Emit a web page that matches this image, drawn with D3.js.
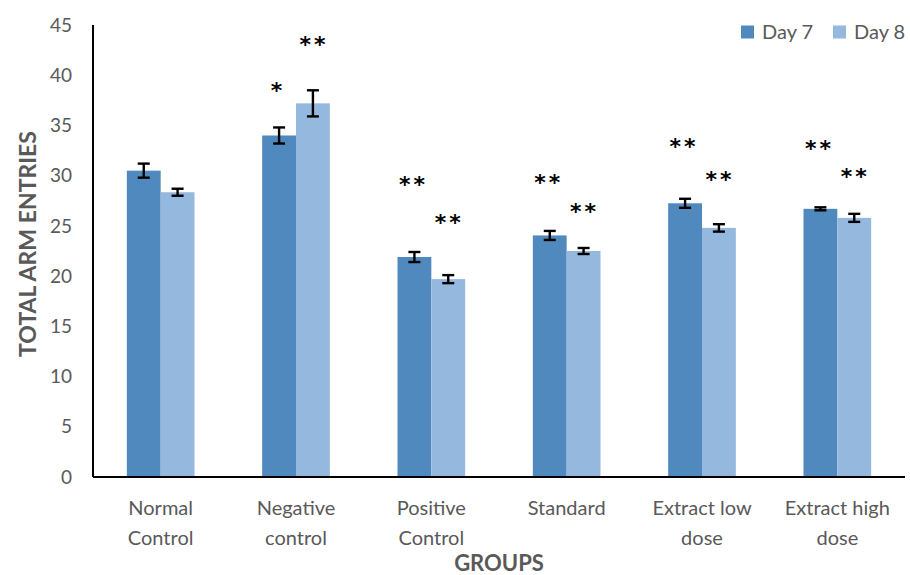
<!DOCTYPE html>
<html>
<head>
<meta charset="utf-8">
<script src="https://cdn.jsdelivr.net/npm/d3@7"></script>
<style>
  body { margin: 0; background: #fff; }
  svg text { font-family: Lato, "Open Sans", sans-serif; }
  .tick-label { fill: #595959; font-size: 19px; }
  .cat-label { fill: #595959; font-size: 20px; }
  .axis-title { fill: #595959; font-weight: bold; }
  .sig { fill: #000; font-size: 22px; font-weight: bold; font-family: "DejaVu Sans", sans-serif !important; }
</style>
</head>
<body>
<svg id="chart" width="910" height="575"></svg>
<script>
// data
var groups = [["Normal", "Control"], ["Negative", "control"], ["Positive", "Control"],
              ["Standard"], ["Extract low", "dose"], ["Extract high", "dose"]];
var series = ["Day 7", "Day 8"];
var day7 = [30.5, 34.0, 21.9, 24.05, 27.25, 26.7];
var day8 = [28.35, 37.2, 19.7, 22.5, 24.8, 25.8];
var err7 = [0.7, 0.8, 0.5, 0.45, 0.45, 0.15];
var err8 = [0.35, 1.3, 0.4, 0.3, 0.37, 0.4];
// significance marks and the level (in data units) they sit at
var sig7 = ["", "*", "**", "**", "**", "**"];
var sig8 = ["", "**", "**", "**", "**", "**"];
var sigLevel7 = [0, 38.9, 29.6, 29.8, 33.4, 33.2];
var sigLevel8 = [0, 43.5, 25.8, 26.9, 30.1, 30.4];
var yTicks = [0, 5, 10, 15, 20, 25, 30, 35, 40, 45];

var colors = ["#4f89bd", "#95b8df"];

var svg = d3.select("#chart");
var plotLeft = 93, plotRight = 905, plotTop = 25, plotBottom = 477;

// ---------- scales ----------
var x0 = d3.scaleBand()
    .domain(d3.range(groups.length))
    .range([plotLeft, plotRight])
    .paddingInner(0.5)
    .paddingOuter(0.25);

var x1 = d3.scaleBand()
    .domain([0, 1])
    .range([0, x0.bandwidth()]);

var y = d3.scaleLinear()
    .domain([0, 45])
    .range([plotBottom, plotTop]);

// ---------- y axis ----------
svg.append("g")
  .selectAll("text")
  .data(yTicks)
  .enter()
  .append("text")
    .attr("class", "tick-label")
    .attr("x", plotLeft - 21)
    .attr("y", function(d) { return y(d); })
    .attr("dy", "0.35em")
    .attr("text-anchor", "end")
    .text(function(d) { return d; });

svg.append("line")
    .attr("x1", plotLeft).attr("x2", plotLeft)
    .attr("y1", y(45)).attr("y2", plotBottom)
    .attr("stroke", "#000").attr("stroke-width", 2);

svg.append("text")
    .attr("class", "axis-title")
    .style("font-size", "23px")
    .attr("transform", "translate(28,244) rotate(-90)")
    .attr("text-anchor", "middle")
    .attr("dy", "0.35em")
    .text("TOTAL ARM ENTRIES");

// ---------- bars ----------
var rows = groups.map(function(g, i) {
  return [
    { g: i, s: 0, v: day7[i], e: err7[i], sig: sig7[i], lvl: sigLevel7[i] },
    { g: i, s: 1, v: day8[i], e: err8[i], sig: sig8[i], lvl: sigLevel8[i] }
  ];
});
var flat = [].concat.apply([], rows);

function cx(d) { return x0(d.g) + x1(d.s) + x1.bandwidth() / 2; }

svg.append("g")
  .selectAll("rect")
  .data(flat)
  .enter()
  .append("rect")
    .attr("x", function(d) { return x0(d.g) + x1(d.s); })
    .attr("y", function(d) { return y(d.v); })
    .attr("width", x1.bandwidth())
    .attr("height", function(d) { return plotBottom - y(d.v); })
    .attr("fill", function(d) { return colors[d.s]; });

// error bars
var eb = svg.append("g").attr("stroke", "#000").attr("stroke-width", 2.4);
flat.forEach(function(d) {
  var c = cx(d), w = 6;
  eb.append("line").attr("x1", c).attr("x2", c).attr("y1", y(d.v + d.e)).attr("y2", y(d.v - d.e));
  eb.append("line").attr("x1", c - w).attr("x2", c + w).attr("y1", y(d.v + d.e)).attr("y2", y(d.v + d.e));
  eb.append("line").attr("x1", c - w).attr("x2", c + w).attr("y1", y(d.v - d.e)).attr("y2", y(d.v - d.e));
});

// significance asterisks
svg.append("g")
  .selectAll("text")
  .data(flat.filter(function(d) { return d.sig; }))
  .enter()
  .append("text")
    .attr("class", "sig")
    .attr("x", function(d) { return cx(d) + (d.s === 0 ? -1 : 1); })
    .attr("y", function(d) { return y(d.lvl); })
    .attr("dy", "0.55em")
    .attr("text-anchor", "middle")
    .style("letter-spacing", "3px")
    .text(function(d) { return d.sig; });

// x axis line
svg.append("line")
    .attr("x1", plotLeft).attr("x2", plotRight)
    .attr("y1", plotBottom).attr("y2", plotBottom)
    .attr("stroke", "#000").attr("stroke-width", 2);

// category labels
var cat = svg.append("g")
  .selectAll("text")
  .data(groups)
  .enter()
  .append("text")
    .attr("class", "cat-label")
    .attr("text-anchor", "middle")
    .attr("x", function(d, i) { return x0(i) + x0.bandwidth() / 2; })
    .attr("y", 515);
cat.selectAll("tspan")
  .data(function(d) { return d; })
  .enter()
  .append("tspan")
    .attr("x", function() { return d3.select(this.parentNode).attr("x"); })
    .attr("dy", function(d, i) { return i === 0 ? 0 : 30; })
    .text(function(d) { return d; });

svg.append("text")
    .attr("class", "axis-title")
    .style("font-size", "22px")
    .attr("x", (plotLeft + plotRight) / 2)
    .attr("y", 571)
    .attr("text-anchor", "middle")
    .text("GROUPS");

// ---------- legend ----------
var legX = [741, 833];
var leg = svg.append("g")
  .selectAll("g")
  .data(series)
  .enter()
  .append("g")
    .attr("transform", function(d, i) { return "translate(" + legX[i] + ",32)"; });
leg.append("rect")
    .attr("x", 0).attr("y", -6.5).attr("width", 13).attr("height", 13)
    .attr("fill", function(d, i) { return colors[i]; });
leg.append("text")
    .attr("class", "cat-label")
    .attr("x", 21)
    .attr("dy", "0.35em")
    .text(function(d) { return d; });
</script>
</body>
</html>
